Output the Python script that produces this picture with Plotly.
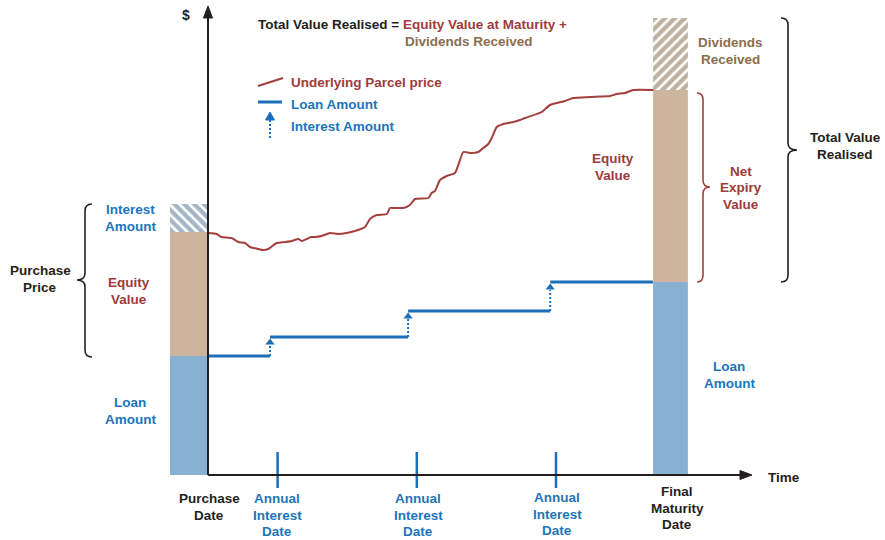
import plotly.graph_objects as go

W, H = 885, 540

# ---------------- data ----------------
# underlying parcel price (time in months since purchase, value in $k)
price_month = [0.0, 0.75, 1.16, 2.04, 2.61, 3.19, 3.62, 4.34, 4.77, 5.2, 5.92, 6.64, 7.22,
               7.78, 8.08, 8.51, 8.88, 9.22, 9.8, 10.52, 11.23, 11.96, 12.67, 13.53, 13.97,
               14.54, 15.41, 15.69, 16.12, 16.84, 17.41, 17.84, 18.99, 19.28, 19.57, 20.0,
               20.58, 21.29, 21.58, 22.01, 22.59, 23.3, 23.73, 24.16, 24.46, 24.89, 25.46,
               26.32, 26.9, 27.33, 28.77, 29.48, 30.06, 30.78, 31.49, 32.93, 34.66, 35.23,
               35.95, 36.66, 38.39]
price_value = [242, 241, 238, 237, 233, 232, 228, 226, 225, 226, 232, 233, 234,
               236, 234, 236, 238, 238, 239, 242, 241, 242, 244, 248, 256,
               260, 261, 267, 267, 267, 270, 276, 277, 282, 284, 295,
               299, 302, 310, 323, 322, 323, 327, 331, 337, 348, 351,
               353, 355, 357, 363, 370, 372, 374, 377, 378, 379, 381,
               382, 385, 385]

# loan amount steps (month when the interest is capitalised, loan level)
loan_step_month = [0.0, 5.35, 17.25, 29.5]
loan_level = [119, 138, 164, 193]
loan_end_month = 38.35

interest_dates = [6, 18, 30]

# stacked bars: purchase date and final maturity date
bar_month = [-1.68, 39.87]
bar_width = [3.2, 3.0]
bar_loan = [119, 193]
bar_equity = [124, 192]
bar_extra = [28, 72]          # interest amount / dividends received

# ---------------- styling ----------------
FONT = "Liberation Sans, Arial, sans-serif"
BLACK = "#231f20"
BLUE_T = "#1c75bc"
RED_T = "#9e3b3b"
BROWN_T = "#8b6e4e"
LINE_BLUE = "#1a6fb8"
PRICE_RED = "#a3403d"
BAR_BLUE = "#87b0d3"
BAR_TAN = "#cdb59d"

OX, OY = 208, 475        # pixel position of the origin
PX_PER_MONTH = 11.6

xr = [-OX / PX_PER_MONTH, (W - OX) / PX_PER_MONTH]
yr = [-(H - OY), OY]

fig = go.Figure()

base_eq = bar_loan
base_ex = [a + b for a, b in zip(bar_loan, bar_equity)]

fig.add_trace(go.Bar(x=bar_month, y=bar_loan, base=[0, 0], width=bar_width,
                     marker=dict(color=BAR_BLUE, line=dict(width=0))))
fig.add_trace(go.Bar(x=bar_month, y=bar_equity, base=base_eq, width=bar_width,
                     marker=dict(color=BAR_TAN, line=dict(width=0))))
fig.add_trace(go.Bar(x=bar_month, y=bar_extra, base=base_ex, width=bar_width,
                     marker=dict(color="white", line=dict(width=0),
                                 pattern=dict(shape=["\\", "/"],
                                              fgcolor=["#4a6b8e", "#7d6142"],
                                              bgcolor="white", size=7, solidity=0.62,
                                              fillmode="overlay"))))

# interest date ticks
tx, ty = [], []
for d in interest_dates:
    tx += [d, d, None]
    ty += [-13, 23, None]
fig.add_trace(go.Scatter(x=tx, y=ty, mode="lines", line=dict(color=LINE_BLUE, width=2.5)))

# price line
fig.add_trace(go.Scatter(x=price_month, y=price_value, mode="lines",
                         line=dict(color=PRICE_RED, width=2, shape="spline", smoothing=0.5)))

# loan amount segments
lx, ly = [], []
ends = loan_step_month[1:] + [loan_end_month]
for s, e, lv in zip(loan_step_month, ends, loan_level):
    lx += [s, e, None]
    ly += [lv, lv, None]
fig.add_trace(go.Scatter(x=lx, y=ly, mode="lines", line=dict(color=LINE_BLUE, width=3)))

# interest arrows
for i in range(1, len(loan_step_month)):
    sx = loan_step_month[i]
    fig.add_trace(go.Scatter(x=[sx, sx], y=[loan_level[i - 1], loan_level[i] - 8], mode="lines",
                             line=dict(color=LINE_BLUE, width=2, dash="2px,2px")))
    fig.add_trace(go.Scatter(x=[sx], y=[loan_level[i] - 5.5], mode="markers",
                             marker=dict(symbol="triangle-up", size=8, color=LINE_BLUE)))

# ---------------- decorations (pixel -> paper) ----------------
def px(x):
    return x / W

def py(y):
    return 1 - y / H

def path(cmds):
    out = []
    for c in cmds:
        if isinstance(c, str):
            out.append(c)
        else:
            out.append(f"{px(c[0]):.5f},{py(c[1]):.5f}")
    return " ".join(out)

shapes = []

def seg(x0, y0, x1, y1, color, width=2, dash=None):
    d = dict(type="line", xref="paper", yref="paper", x0=px(x0), y0=py(y0), x1=px(x1), y1=py(y1),
             line=dict(color=color, width=width))
    if dash:
        d["line"]["dash"] = dash
    shapes.append(d)

def tri(pts, color):
    cmds = ["M", pts[0], "L", pts[1], "L", pts[2], "Z"]
    shapes.append(dict(type="path", xref="paper", yref="paper", path=path(cmds),
                       fillcolor=color, line=dict(color=color, width=1)))

def brace(xb, xt, xe, yt, yb, ym, color, r=7):
    cmds = ["M", (xe, yt), "Q", (xb, yt), (xb, yt + r), "L", (xb, ym - r),
            "Q", (xb, ym), (xt, ym), "Q", (xb, ym), (xb, ym + r),
            "L", (xb, yb - r), "Q", (xb, yb), (xe, yb)]
    shapes.append(dict(type="path", xref="paper", yref="paper", path=path(cmds),
                       line=dict(color=color, width=1.6)))

# axes
seg(OX, OY, OX, 14, BLACK, 2)
tri([(203.5, 18), (208, 6), (212.5, 18)], BLACK)
seg(OX, OY, 744, OY, BLACK, 2)
tri([(740, 470.5), (752, 475), (740, 479.5)], BLACK)

# braces
brace(85, 77, 92, 204, 357, 280, BLACK)
brace(703, 710, 697, 93, 282, 187, PRICE_RED)
brace(788, 797, 781, 18, 282, 150, BLACK)

# legend samples
seg(258, 86, 283, 78, PRICE_RED, 2)
seg(258, 102, 282, 102, LINE_BLUE, 3)
seg(270, 138, 270, 119, LINE_BLUE, 2, "2px,2px")
tri([(265.5, 120), (270, 112), (274.5, 120)], LINE_BLUE)

annotations = []
LINE_GAP = 16.7

def note(text, x, y, color, size=13.5, xanchor="center"):
    lines = text.split("<br>")
    n = len(lines)
    for i, ln in enumerate(lines):
        yy = y + (i - (n - 1) / 2) * LINE_GAP
        annotations.append(dict(text=f"<b>{ln}</b>", x=px(x), y=py(yy), xref="paper", yref="paper",
                                showarrow=False, xanchor=xanchor, yanchor="middle", align="center",
                                borderpad=0, font=dict(family=FONT, size=size, color=color)))

note("$", 186, 15, BLACK, 14)
note(f"Total Value Realised = <span style='color:{RED_T}'>Equity Value at Maturity +</span>",
     257, 25, BLACK, 13.5, "left")
note("Dividends Received", 469, 42, BROWN_T)
note("Underlying Parcel price", 290, 82, RED_T, 13.5, "left")
note("Loan Amount", 290, 104, BLUE_T, 13.5, "left")
note("Interest Amount", 290, 126, BLUE_T, 13.5, "left")
note("Dividends<br>Received", 730, 51, BROWN_T)
note("Equity<br>Value", 613, 167, RED_T)
note("Net<br>Expiry<br>Value", 741, 188, RED_T)
note("Total Value<br>Realised", 845, 146, BLACK)
note("Purchase<br>Price", 40, 279, BLACK)
note("Interest<br>Amount", 130, 218, BLUE_T)
note("Equity<br>Value", 129, 291, RED_T)
note("Loan<br>Amount", 130, 411, BLUE_T)
note("Loan<br>Amount", 729, 375, BLUE_T)
note("Purchase<br>Date", 209, 507, BLACK)
note("Annual<br>Interest<br>Date", 277, 515, BLUE_T)
note("Annual<br>Interest<br>Date", 418, 515, BLUE_T)
note("Annual<br>Interest<br>Date", 557, 514, BLUE_T)
note("Final<br>Maturity<br>Date", 677, 508, BLACK)
note("Time", 767, 477, BLACK, 13.5, "left")

fig.update_layout(
    width=W, height=H, margin=dict(l=0, r=0, t=0, b=0),
    paper_bgcolor="white", plot_bgcolor="white",
    showlegend=False, barmode="overlay", hovermode=False,
    xaxis=dict(range=xr, visible=False, fixedrange=True),
    yaxis=dict(range=yr, visible=False, fixedrange=True),
    shapes=shapes, annotations=annotations,
)

fig.write_html("out.html", config={"displayModeBar": False},
               post_script="document.body.style.margin='0';document.body.style.overflow='hidden';")
